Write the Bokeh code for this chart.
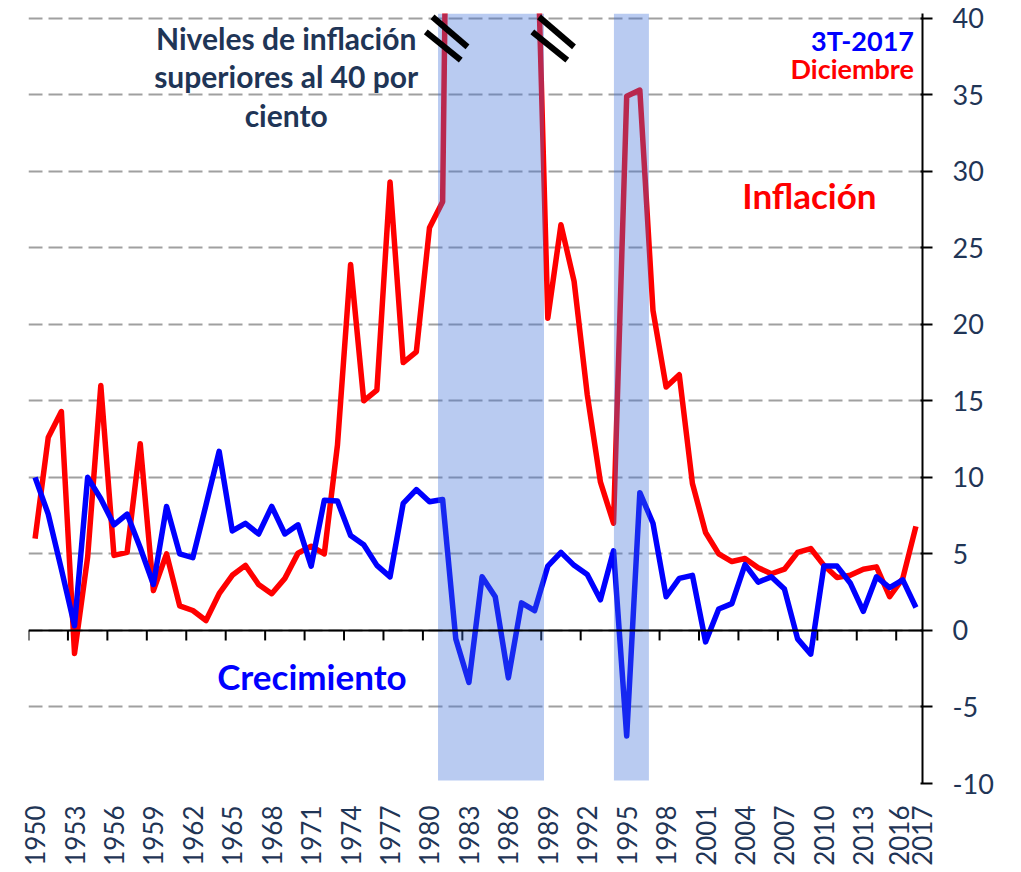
import math
from bokeh.plotting import figure
from bokeh.models import Range1d, FixedTicker, Span, ColumnDataSource
from bokeh.core.properties import value
from bokeh.embed import file_html
from bokeh.resources import INLINE

# ---------------- data ----------------
years = list(range(1950, 2018))

inflacion = [
    6.0, 12.6, 14.3, -1.5, 4.8, 16.0, 4.9, 5.1, 12.2, 2.6,      # 1950-1959
    5.0, 1.6, 1.3, 0.65, 2.4, 3.6, 4.25, 3.0, 2.4, 3.4,         # 1960-1969
    5.05, 5.5, 5.0, 12.1, 23.9, 15.0, 15.7, 29.3, 17.5, 18.2,   # 1970-1979
    26.3, 28.0, 98.8, 80.8, 59.2, 63.7, 105.7, 159.2, 51.7, 20.4,  # 1980-1989
    26.5, 22.8, 15.4, 9.7, 7.0, 34.9, 35.3, 20.9, 15.9, 16.7,   # 1990-1999
    9.6, 6.4, 5.0, 4.5, 4.7, 4.1, 3.7, 4.0, 5.1, 5.35,          # 2000-2009
    4.25, 3.45, 3.6, 4.0, 4.15, 2.2, 3.4, 6.8,                  # 2010-2017
]

crecimiento = [
    10.0, 7.6, 4.0, 0.3, 10.0, 8.6, 6.9, 7.6, 5.4, 3.0,         # 1950-1959
    8.1, 5.0, 4.75, 8.2, 11.7, 6.5, 7.0, 6.3, 8.1, 6.3,         # 1960-1969
    6.9, 4.2, 8.5, 8.45, 6.2, 5.6, 4.25, 3.5, 8.3, 9.2,         # 1970-1979
    8.4, 8.55, -0.55, -3.4, 3.5, 2.2, -3.1, 1.8, 1.3, 4.2,      # 1980-1989
    5.1, 4.25, 3.65, 2.0, 5.2, -6.9, 9.0, 7.0, 2.2, 3.4,        # 1990-1999
    3.6, -0.75, 1.4, 1.75, 4.3, 3.15, 3.5, 2.7, -0.55, -1.55,   # 2000-2009
    4.2, 4.2, 3.1, 1.25, 3.5, 2.8, 3.3, 1.5,                    # 2010-2017
]

y_ticks = [-10, -5, 0, 5, 10, 15, 20, 25, 30, 35, 40]
x_label_years = list(range(1950, 2016, 3))   # 1950 ... 2013
tail_labels = ["2016", "2017"]               # squeezed together at the right edge

# shaded periods (inflation above 40 %)
band_start = [1980.65, 1994.03]
band_end = [1988.71, 1996.69]
band_bottom = -9.8
band_top = 40.3

# axis-break marks where inflation leaves the scale
break_x = [1981.3, 1989.4]
break_y = 38.64

note_text = "Niveles de inflación\nsuperiores al 40 por\nciento"

NAVY = "#1F3556"
RED = "#FF0000"
BLUE = "#0000FF"

X_START, X_END = 1949.5, 2017.5

# ---------------- figure ----------------
p = figure(
    frame_width=894, frame_height=770,
    x_range=Range1d(X_START, X_END), y_range=Range1d(-10, 40.3),
    y_axis_location="right",
    output_backend="svg", toolbar_location=None,
    min_border_left=28, min_border_top=13, min_border_right=5, min_border_bottom=5,
    outline_line_color=None, background_fill_color="white",
)

# grid
p.xgrid.visible = False
p.ygrid.ticker = FixedTicker(ticks=y_ticks)
p.ygrid.grid_line_color = "#A0A0A0"
p.ygrid.grid_line_width = 2
p.ygrid.grid_line_dash = "14 6"

# right y axis
ya = p.yaxis[0]
ya.ticker = FixedTicker(ticks=y_ticks)
ya.major_label_overrides = {t: str(t) for t in y_ticks}
ya.axis_line_color = "black"
ya.axis_line_width = 2
ya.major_tick_line_color = "black"
ya.major_tick_line_width = 2
ya.major_tick_out = 10
ya.major_tick_in = 2
ya.minor_tick_line_color = None
ya.major_label_text_font = "Lato"
ya.major_label_text_font_size = "27px"
ya.major_label_text_color = NAVY
ya.major_label_standoff = 20

# bottom x axis (labels only); last two labels squeezed apart at the right edge
tail_pos = [X_END - 1.75, X_END - 0.05]
xa = p.xaxis[0]
xa.ticker = FixedTicker(ticks=x_label_years + tail_pos)
overrides = {y: str(y) for y in x_label_years}
for pos, lab in zip(tail_pos, tail_labels):
    overrides[pos] = lab
xa.major_label_overrides = overrides
xa.axis_line_color = None
xa.major_tick_line_color = None
xa.minor_tick_line_color = None
xa.major_label_orientation = math.pi / 2
xa.major_label_text_font = "Lato"
xa.major_label_text_font_size = "26px"
xa.major_label_text_color = NAVY
xa.major_label_standoff = 16

# zero line with category ticks
p.add_layout(Span(location=0, dimension="width", line_color="black", line_width=2))
tick_x = [y - 0.5 for y in years[::3]]
p.segment(x0=tick_x, y0=[0] * len(tick_x), x1=tick_x, y1=[-0.654] * len(tick_x),
          line_color="black", line_width=2)

# series
src = ColumnDataSource(dict(year=years, infl=inflacion, crec=crecimiento))
p.line("year", "infl", source=src, line_color=RED, line_width=5.5, line_join="round")
p.line("year", "crec", source=src, line_color=BLUE, line_width=5.5, line_join="round")

# shaded periods on top (semi-transparent)
p.quad(left=band_start, right=band_end,
       bottom=[band_bottom] * len(band_start), top=[band_top] * len(band_start),
       fill_color="#3C6ED7", fill_alpha=0.36, line_color=None)

# break marks
segA_dx0, segA_dy0, segA_dx1, segA_dy1 = -1.07, 1.44, 1.59, -0.52
segB_dx0, segB_dy0, segB_dx1, segB_dy1 = -1.58, 0.46, 1.08, -1.39
bx0, by0, bx1, by1 = [], [], [], []
for cx in break_x:
    bx0 += [cx + segA_dx0, cx + segB_dx0]
    by0 += [break_y + segA_dy0, break_y + segB_dy0]
    bx1 += [cx + segA_dx1, cx + segB_dx1]
    by1 += [break_y + segA_dy1, break_y + segB_dy1]
p.segment(x0=bx0, y0=by0, x1=bx1, y1=by1, line_color="black", line_width=6)

# texts
p.text(x=[1969.1], y=[36.2], text=[note_text], text_font=value("Lato"),
       text_font_style="bold", text_font_size="30px", text_color=NAVY,
       text_align="center", text_baseline="middle", text_line_height=1.07)
p.text(x=[2016.85, 2016.85], y=[38.56, 36.73], text=["3T-2017", "Diciembre"],
       text_font=value("Lato"), text_font_style="bold", text_font_size="27px",
       text_color=[BLUE, RED], text_align="right", text_baseline="middle")
p.text(x=[2008.9], y=[28.43], text=["Inflación"], text_font=value("Lato"),
       text_font_style="bold", text_font_size="35px", text_color=RED,
       text_align="center", text_baseline="middle")
p.text(x=[1971.06], y=[-3.0], text=["Crecimiento"], text_font=value("Lato"),
       text_font_style="bold", text_font_size="35px", text_color=BLUE,
       text_align="center", text_baseline="middle")

open("out.html", "w").write(file_html(p, INLINE))
